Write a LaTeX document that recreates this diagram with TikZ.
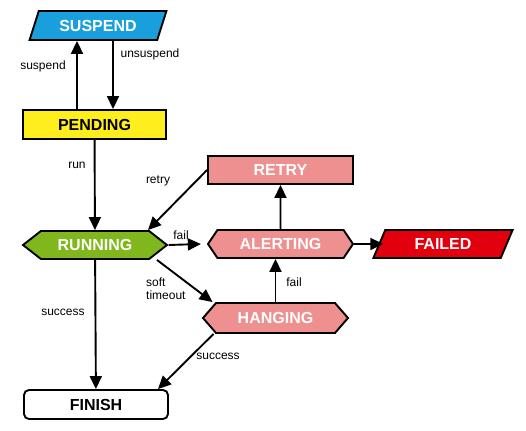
\documentclass[tikz,border=0pt]{standalone}
\usepackage{fontspec}
\setmainfont{Liberation Sans}
\usetikzlibrary{arrows.meta,shapes.geometric,shapes.symbols}

\definecolor{bleu}{HTML}{1A9FDD}
\definecolor{jaune}{HTML}{FFEE1E}
\definecolor{vert}{HTML}{7FB71C}
\definecolor{rose}{HTML}{EF9090}
\definecolor{rouge}{HTML}{E3000E}

\begin{document}
\begin{tikzpicture}[x=1pt,y=-1pt,>={Triangle[length=13pt,width=12pt]},
  etat/.style={draw,line width=1.9pt,font=\fontsize{16}{18}\selectfont\bfseries,inner sep=0pt,minimum height=29pt},
  hexa/.style={etat,signal,signal to=east and west,signal pointer angle=100},
  para/.style={etat,trapezium,trapezium left angle=62,trapezium right angle=118,trapezium stretches=true},
  fleche/.style={->,line width=1.9pt},
  lbl/.style={font=\fontsize{12}{13}\selectfont,inner sep=0pt}]
  \useasboundingbox (0,0) rectangle (526,430);

  % etats
  \node[para,fill=bleu,text=white,minimum width=138pt] (suspend) at (98,25.5) {SUSPEND};
  \node[etat,rectangle,fill=jaune,minimum width=143pt] (pending) at (94.5,124.5) {PENDING};
  \node[hexa,signal pointer angle=76,fill=vert,text=white,minimum width=144pt,minimum height=28pt] (running) at (95,245) {RUNNING};
  \node[etat,rectangle,fill=rose,text=white,minimum width=145pt,minimum height=28pt] (retry) at (280.5,170) {RETRY};
  \node[hexa,signal pointer angle=112,fill=rose,text=white,minimum width=145pt,minimum height=28pt] (alerting) at (280.5,244) {ALERTING};
  \node[para,fill=rouge,text=white,minimum width=140pt,minimum height=28pt] (failed) at (443,244) {FAILED};
  \node[hexa,signal pointer angle=98,fill=rose,text=white,minimum width=145pt,minimum height=30pt] (hanging) at (275.5,318) {HANGING};
  \node[etat,rectangle,rounded corners=5pt,fill=white,minimum width=144pt] (finish) at (96,404.5) {FINISH};

  % points de depart des fleches
  \coordinate (s1) at ([xshift=-17.5pt]pending.north);
  \coordinate (s2) at ([xshift=18.5pt]pending.north);
  \coordinate (r1) at ([xshift=53pt]running.north);
  \coordinate (r2) at ([xshift=62pt]running.south);
  \coordinate (h1) at ([xshift=-62pt]hanging.south);
  \coordinate (h2) at ([xshift=-63pt]hanging.north);
  \coordinate (f1) at ([xshift=62pt]finish.north);

  % transitions
  \draw[fleche] (s1) -- (s1 |- suspend.south);
  \draw[fleche] (s2 |- suspend.south) -- (s2);
  \draw[fleche] (pending) -- (running);
  \draw[fleche] (running) -- (finish);
  \draw[fleche] (retry.west) -- (r1);
  \draw[fleche] (running.east) -- ([xshift=-6pt]alerting.west);
  \draw[fleche] (alerting) -- (retry);
  \draw[fleche] (alerting.east) -- ([xshift=5pt]failed.west);
  \draw[fleche] (r2) -- (h2);
  \draw[fleche] (hanging.north) -- (hanging.north |- alerting.south);
  \draw[fleche] (h1) -- (f1);

  % etiquettes
  \node[lbl] (lsuspend) at (43,66) {suspend};
  \node[lbl] (lunsuspend) at (150,54) {unsuspend};
  \node[lbl] (lrun) at (77,165) {run};
  \node[lbl] (lretry) at (158,181) {retry};
  \node[lbl] (lfail) at (181,235) {fail};
  \node[lbl,align=left,anchor=west] (lsoft) at (146,289) {soft\\timeout};
  \node[lbl] (lsuccess) at (63,312) {success};
  \node[lbl] (lfail2) at (294,282) {fail};
  \node[lbl] (lsuccess2) at (218,356) {success};
\end{tikzpicture}
\end{document}
